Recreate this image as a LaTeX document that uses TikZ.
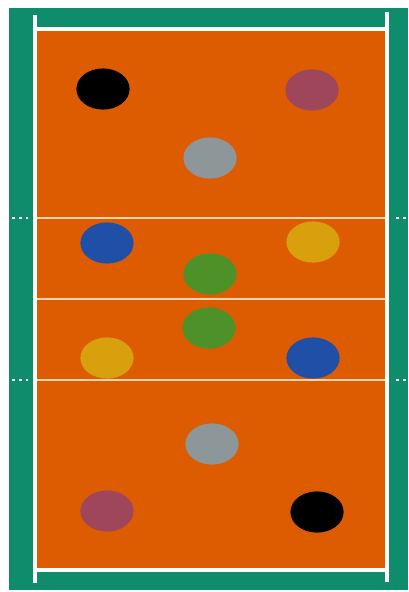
\documentclass[tikz,border=0pt]{standalone}
\usetikzlibrary{shapes.geometric}

\definecolor{courtgreen}{HTML}{0E8C6C}
\definecolor{courtorange}{HTML}{DD5C02}
\definecolor{lineorange}{HTML}{FFD6AE}
\definecolor{pmauve}{HTML}{A0465A}
\definecolor{pgrey}{HTML}{8D979A}
\definecolor{pblue}{HTML}{1F4FA6}
\definecolor{pyellow}{HTML}{D7A00C}
\definecolor{pgreen}{HTML}{4E9128}

\begin{document}
\begin{tikzpicture}[x=0.025cm, y=-0.025cm,
  player/.style={ellipse, minimum width=1.33cm, minimum height=1.03cm, inner sep=0pt},
  courtline/.style={white, line width=2.2pt},
  zoneline/.style={lineorange, line width=1.3pt},
  sidemark/.style={white, line width=1.2pt, dash pattern=on 2pt off 3pt}]

  \useasboundingbox (0,0) rectangle (408,592);
  \fill[courtgreen] (9,8) rectangle (408,590);
  \fill[courtorange] (35,29) rectangle (387,570);

  % zone lines
  \draw[zoneline] (36,218) -- (386,218);
  \draw[zoneline] (36,299) -- (386,299);
  \draw[zoneline] (36,380) -- (386,380);
  \draw[sidemark] (12,218) -- (28,218);
  \draw[sidemark] (12,380) -- (28,380);
  \draw[sidemark] (396,218) -- (408,218);
  \draw[sidemark] (396,380) -- (408,380);

  % boundary
  \draw[courtline] (35,29) rectangle (387,570);
  \draw[courtline] (35,15) -- (35,583);
  \draw[courtline] (387,12) -- (387,582);

  % players
  \node[player, fill=black] (black1) at (103,89) {};
  \node[player, fill=pmauve] (mauve1) at (312,90) {};
  \node[player, fill=pgrey] (grey1) at (210,158) {};
  \node[player, fill=pblue] (blue1) at (107,243) {};
  \node[player, fill=pyellow] (yellow1) at (313,242) {};
  \node[player, fill=pgreen] (green1) at (210,274) {};
  \node[player, fill=pgreen] (green2) at (209,328) {};
  \node[player, fill=pyellow] (yellow2) at (107,358) {};
  \node[player, fill=pblue] (blue2) at (313,358) {};
  \node[player, fill=pgrey] (grey2) at (212,444) {};
  \node[player, fill=pmauve] (mauve2) at (107,511) {};
  \node[player, fill=black] (black2) at (317,512) {};
\end{tikzpicture}
\end{document}
